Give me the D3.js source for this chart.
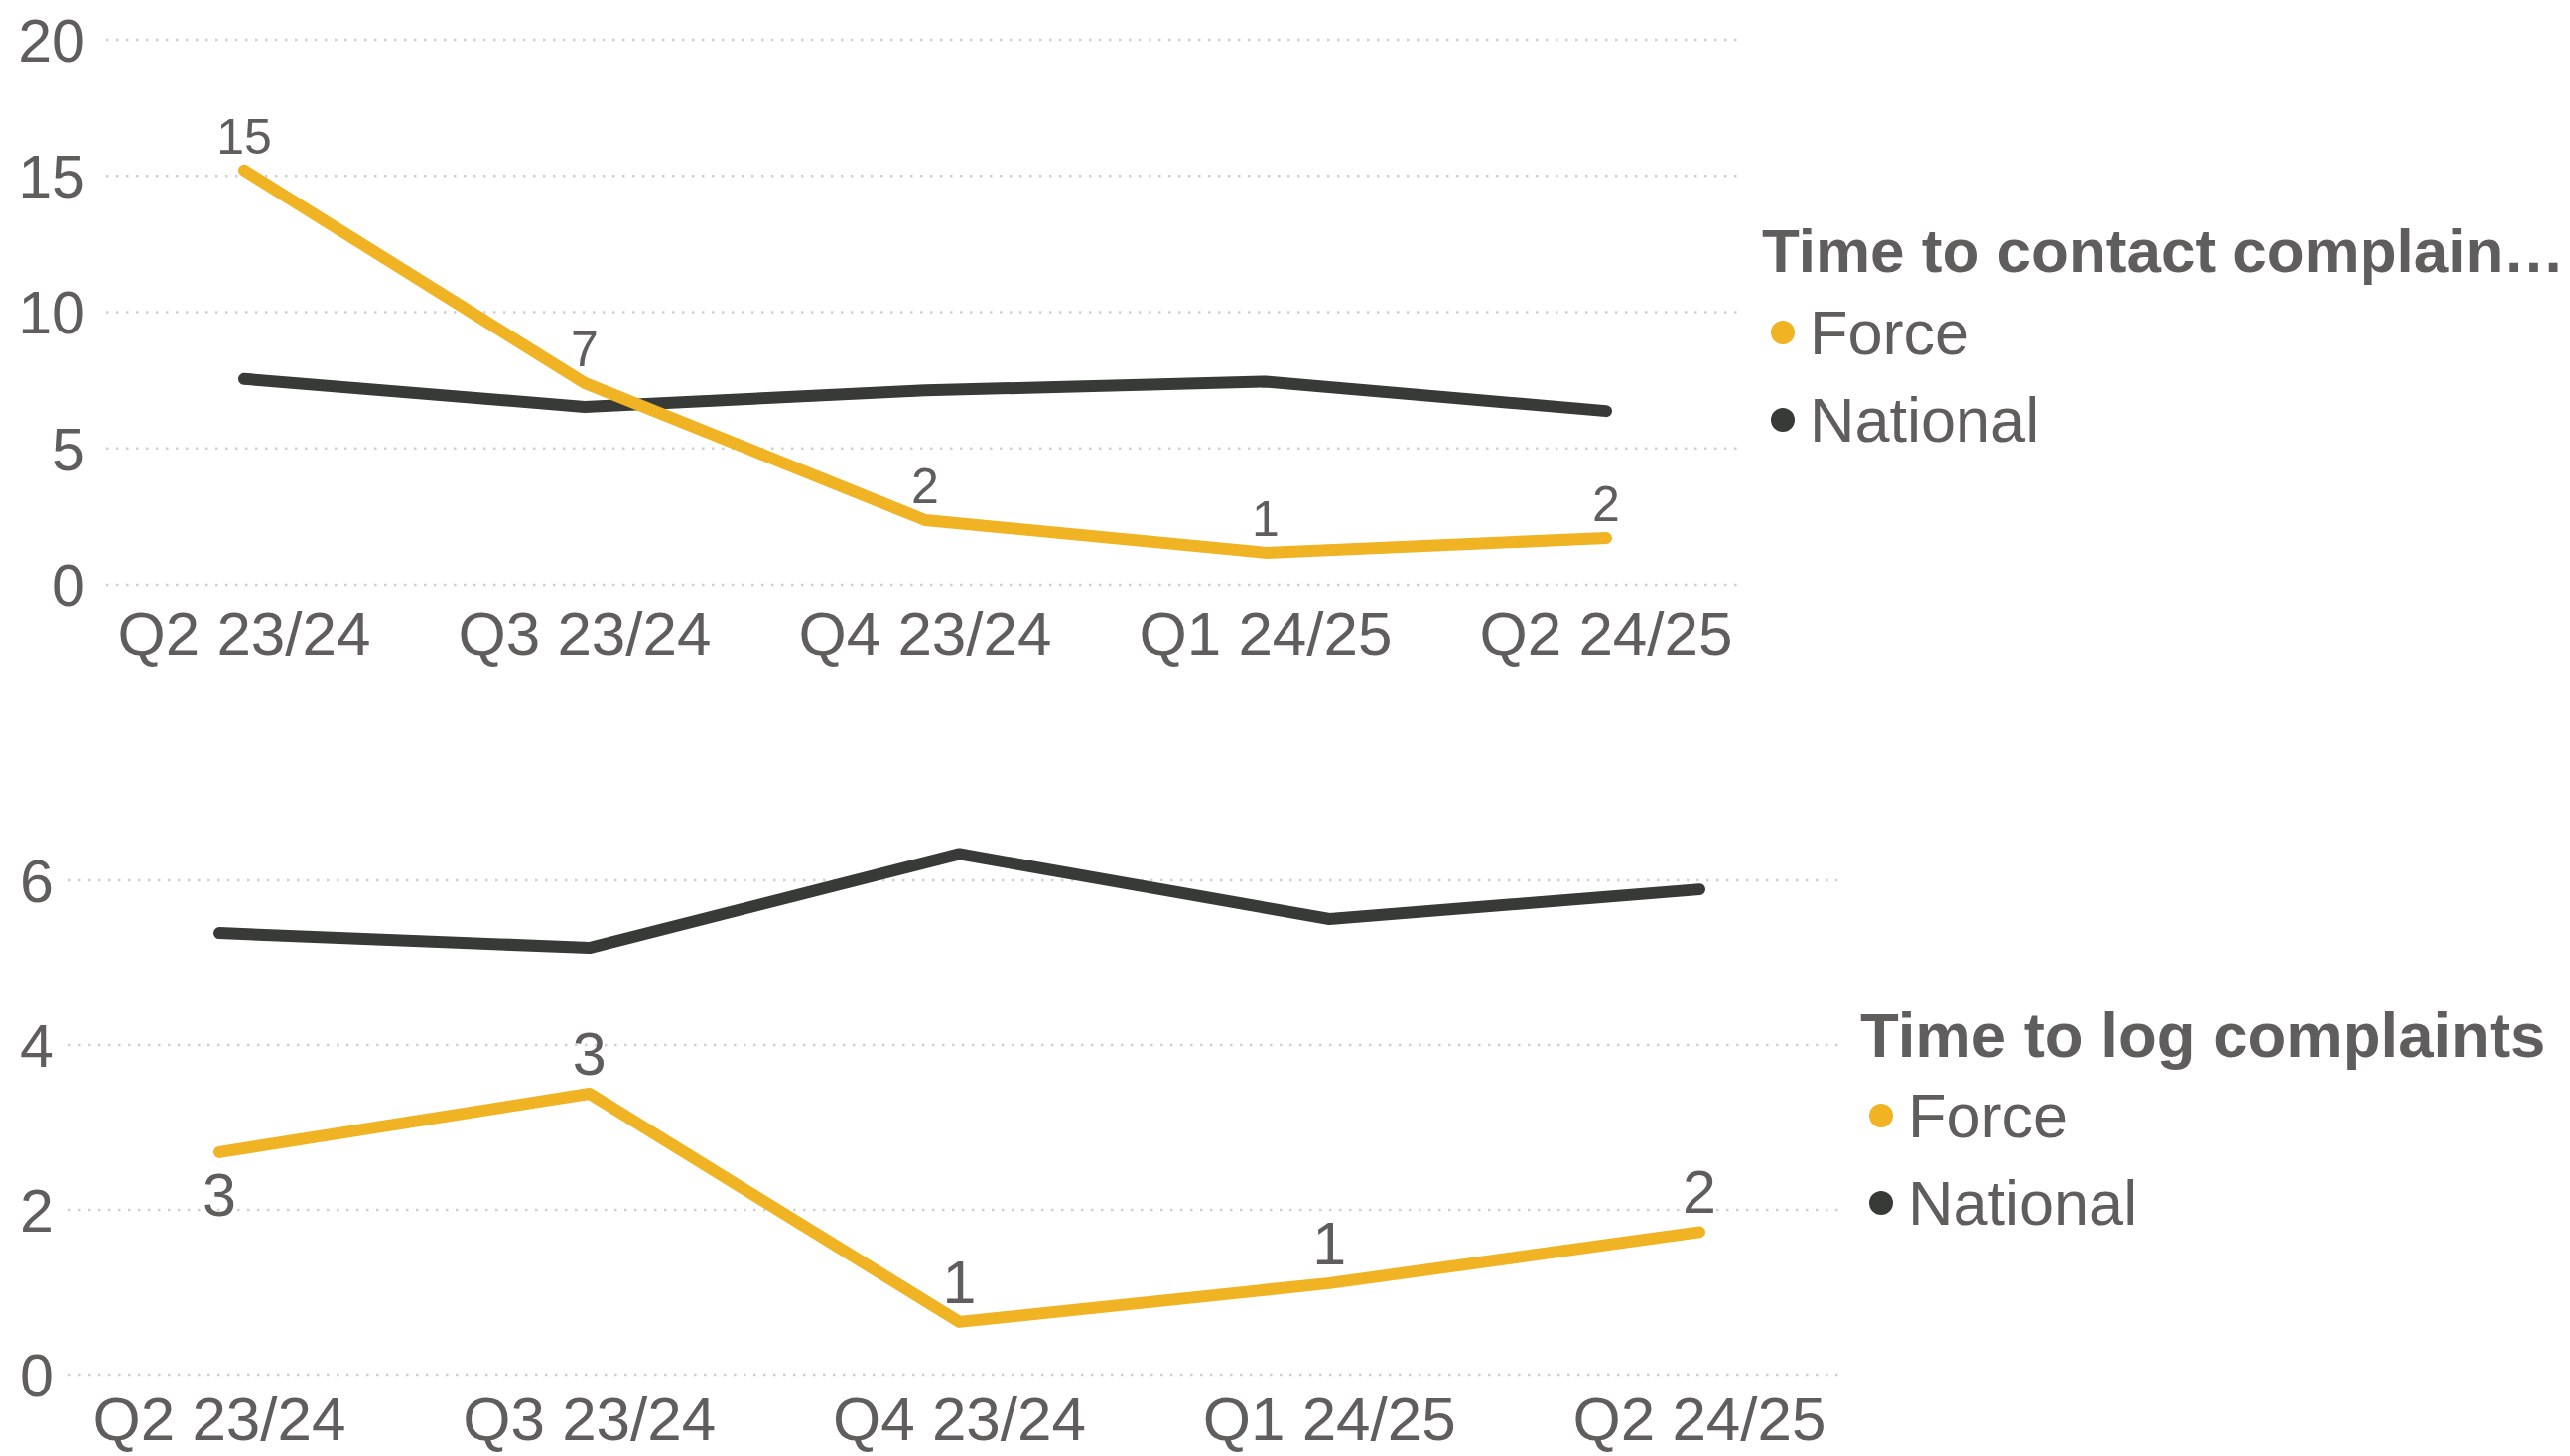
<!DOCTYPE html>
<html>
<head>
<meta charset="utf-8">
<script src="https://cdn.jsdelivr.net/npm/d3@7"></script>
<style>
  body { margin: 0; background: #fff; }
  text { font-family: "Liberation Sans", Arial, sans-serif; fill: #605E5C; }
</style>
</head>
<body>
<div id="chart"></div>
<script>
var width = 2589;
var height = 1467;

// data
var quarters = ["Q2 23/24", "Q3 23/24", "Q4 23/24", "Q1 24/25", "Q2 24/25"];

var contactForce = [15.2, 7.4, 2.37, 1.17, 1.71];
var contactNational = [7.55, 6.52, 7.13, 7.45, 6.37];
var contactTicks = [0, 5, 10, 15, 20];

var logForce = [2.7, 3.41, 0.64, 1.11, 1.73];
var logNational = [5.36, 5.18, 6.32, 5.53, 5.89];
var logTicks = [0, 2, 4, 6];

var seriesNames = ["Force", "National"];
var seriesColors = ["#EFB324", "#373A36"];

var svg = d3.select("#chart")
      .append("svg")
      .attr("width", width)
      .attr("height", height);

var fmt = d3.format(".0f");

function drawPanel(p){
  var g = svg.append("g");

  var x = d3.scalePoint().domain(quarters).range(p.xRange);
  var y = d3.scaleLinear().domain(p.yDomain).range(p.yRange);

  // gridlines
  g.selectAll(".grid")
    .data(p.ticks)
    .enter()
    .append("line")
    .attr("x1", p.gridX[0])
    .attr("x2", p.gridX[1])
    .attr("y1", function(d){ return y(d); })
    .attr("y2", function(d){ return y(d); })
    .attr("stroke", "#cfcfcf")
    .attr("stroke-width", 2.5)
    .attr("stroke-dasharray", "2.5,7.5");

  // y tick labels
  g.selectAll(".ytick")
    .data(p.ticks)
    .enter()
    .append("text")
    .attr("x", p.yLabelX)
    .attr("y", function(d){ return y(d); })
    .attr("dy", "0.36em")
    .attr("text-anchor", "end")
    .attr("font-size", 61)
    .text(function(d){ return d; });

  // x tick labels
  g.selectAll(".xtick")
    .data(quarters)
    .enter()
    .append("text")
    .attr("x", function(d){ return x(d); })
    .attr("y", p.xLabelY)
    .attr("text-anchor", "middle")
    .attr("font-size", 62)
    .text(function(d){ return d; });

  var line = d3.line()
    .x(function(d, i){ return x(quarters[i]); })
    .y(function(d){ return y(d); });

  // national first so force sits on top
  g.append("path")
    .datum(p.national)
    .attr("d", line)
    .attr("fill", "none")
    .attr("stroke", seriesColors[1])
    .attr("stroke-width", 12)
    .attr("stroke-linecap", "round")
    .attr("stroke-linejoin", "round");

  g.append("path")
    .datum(p.force)
    .attr("d", line)
    .attr("fill", "none")
    .attr("stroke", seriesColors[0])
    .attr("stroke-width", 12)
    .attr("stroke-linecap", "round")
    .attr("stroke-linejoin", "round");

  // data labels on force line
  g.selectAll(".dlabel")
    .data(p.force)
    .enter()
    .append("text")
    .attr("x", function(d, i){ return x(quarters[i]); })
    .attr("y", function(d, i){
      return p.below[i] ? y(d) + p.belowOffset : y(d) - p.aboveOffset;
    })
    .attr("text-anchor", "middle")
    .attr("font-size", p.labelSize)
    .attr("fill", "#555")
    .text(function(d){ return fmt(d); });

  // legend
  var lg = g.append("g");
  lg.append("text")
    .attr("x", p.legend.x)
    .attr("y", p.legend.titleY)
    .attr("font-size", p.legend.titleSize)
    .attr("font-weight", "bold")
    .text(p.title);

  var items = lg.selectAll(".item")
    .data(seriesNames)
    .enter()
    .append("g")
    .attr("transform", function(d, i){
      return "translate(0," + (p.legend.itemY + i * p.legend.step) + ")";
    });

  items.append("circle")
    .attr("cx", p.legend.x + 21)
    .attr("cy", 0)
    .attr("r", 12)
    .attr("fill", function(d, i){ return seriesColors[i]; });

  items.append("text")
    .attr("x", p.legend.x + 48)
    .attr("y", 22)
    .attr("font-size", 63)
    .text(function(d){ return d; });
}

drawPanel({
  force: contactForce,
  national: contactNational,
  ticks: contactTicks,
  yDomain: [0, 20],
  yRange: [589, 40],
  xRange: [246, 1618],
  gridX: [107, 1750],
  yLabelX: 86,
  xLabelY: 660,
  labelSize: 50,
  aboveOffset: 17,
  belowOffset: 0,
  below: [false, false, false, false, false],
  title: "Time to contact complain\u2026",
  legend: { x: 1775, titleY: 274, titleSize: 62, itemY: 335, step: 88 }
});

drawPanel({
  force: logForce,
  national: logNational,
  ticks: logTicks,
  yDomain: [0, 6],
  yRange: [1385, 887],
  xRange: [221, 1712],
  gridX: [69, 1857],
  yLabelX: 54,
  xLabelY: 1451,
  labelSize: 61,
  aboveOffset: 19,
  belowOffset: 64,
  below: [true, false, false, false, false],
  title: "Time to log complaints",
  legend: { x: 1874, titleY: 1065, titleSize: 63.5, itemY: 1124, step: 88 }
});
</script>
</body>
</html>
